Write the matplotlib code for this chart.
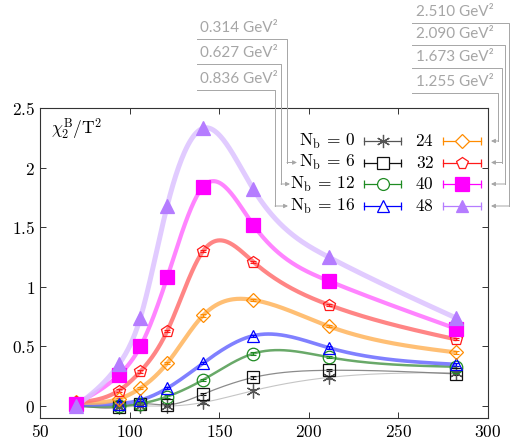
import numpy as np
import matplotlib
matplotlib.use("Agg")
import matplotlib.pyplot as plt
from matplotlib.ticker import FuncFormatter

plt.rcParams['mathtext.fontset'] = 'cm'
plt.rcParams['font.family'] = ['DejaVu Sans']

# temperatures (MeV) and chi_2^B/T^2 for each magnetic flux quantum N_b
T = [70, 94, 106, 121, 141, 169, 211, 282]
nb_values = [0, 6, 12, 16, 24, 32, 40, 48]
chi_0 = [0.00, -0.01, 0.00, 0.00, 0.03, 0.13, 0.24, 0.28]
chi_6 = [0.01, -0.01, 0.02, 0.01, 0.10, 0.24, 0.30, 0.27]
chi_12 = [0.00, 0.00, 0.02, 0.08, 0.22, 0.44, 0.41, 0.33]
chi_16 = [0.01, 0.02, 0.05, 0.15, 0.36, 0.59, 0.49, 0.35]
chi_24 = [0.03, 0.06, 0.15, 0.36, 0.76, 0.89, 0.67, 0.45]
chi_32 = [0.03, 0.13, 0.29, 0.63, 1.30, 1.21, 0.85, 0.56]
chi_40 = [0.02, 0.26, 0.50, 1.08, 1.84, 1.52, 1.05, 0.65]
chi_48 = [0.00, 0.35, 0.74, 1.68, 2.33, 1.82, 1.25, 0.74]
chi_err = 0.01

# eB labels: left ones point at N_b = 6, 12, 16; right ones at 48, 40, 32, 24
eb_left = ["0.314", "0.627", "0.836"]
eb_right = ["2.510", "2.090", "1.673", "1.255"]

series = [chi_0, chi_6, chi_12, chi_16, chi_24, chi_32, chi_40, chi_48]
colors = ['#555555', '#111111', '#1e8b22', '#0000ff', '#ff8c00', '#ff1a1a', '#ff00ff', '#b57cff']
curve_colors = ['#bbbbbb', '#777777', '#4f9a4f', '#6a6aff', '#ffb45c', '#ff7070', '#ff6fff', '#dcc2ff']
curve_widths = [0.8, 0.9, 1.8, 2.6, 3.0, 3.0, 3.0, 3.6]
markers = [(6, 2, 0), 's', 'o', '^', 'D', 'p', 's', '^']
msizes = [10, 9, 9, 9, 7.5, 9, 10, 9.5]
filled = [False, False, False, False, False, False, True, True]


def natural_spline(x, y, xs):
    x = np.asarray(x, float)
    y = np.asarray(y, float)
    n = len(x)
    h = np.diff(x)
    A = np.zeros((n, n))
    b = np.zeros(n)
    A[0, 0] = A[-1, -1] = 1
    for i in range(1, n - 1):
        A[i, i - 1] = h[i - 1]
        A[i, i] = 2 * (h[i - 1] + h[i])
        A[i, i + 1] = h[i]
        b[i] = 3 * ((y[i + 1] - y[i]) / h[i] - (y[i] - y[i - 1]) / h[i - 1])
    c = np.linalg.solve(A, b)
    idx = np.clip(np.searchsorted(x, xs) - 1, 0, n - 2)
    dx = xs - x[idx]
    bb = (y[idx + 1] - y[idx]) / h[idx] - h[idx] * (2 * c[idx] + c[idx + 1]) / 3
    d = (c[idx + 1] - c[idx]) / (3 * h[idx])
    return y[idx] + bb * dx + c[idx] * dx ** 2 + d * dx ** 3


W, H = 512, 443
fig = plt.figure(figsize=(W / 100, H / 100), dpi=100)
ax = fig.add_axes([40 / W, 1 - 418 / H, 448 / W, 310 / H])

xs = np.linspace(T[0], T[-1], 400)
for i, vals in enumerate(series):
    ax.plot(xs, natural_spline(T, vals, xs), color=curve_colors[i],
            lw=curve_widths[i], alpha=0.85, solid_capstyle='round', zorder=2 + i * 0.1)
for i, vals in enumerate(series):
    ax.errorbar(T, vals, yerr=chi_err, fmt='none', ecolor=colors[i], elinewidth=0.8,
                capsize=2, capthick=0.8, zorder=4)
    ax.plot(T, vals, ls='none', marker=markers[i], ms=msizes[i], mew=0.9,
            mec=colors[i], mfc=colors[i] if filled[i] else 'none', zorder=5)

ax.set_xlim(50, 300)
ax.set_ylim(-0.1, 2.5)
ax.set_xticks([50, 100, 150, 200, 250, 300])
ax.set_yticks([0, 0.5, 1, 1.5, 2, 2.5])
fmt = FuncFormatter(lambda v, p: "$%g$" % v)
ax.xaxis.set_major_formatter(fmt)
ax.yaxis.set_major_formatter(fmt)
ax.tick_params(direction='in', length=4, width=0.7, top=True, right=True,
               labelsize=12.5, colors='#333333', labelcolor='black')
for s in ax.spines.values():
    s.set_linewidth(0.8)
    s.set_color('#333333')
ax.text(0.025, 0.93, r"$\chi_2^{\mathrm{B}}/\mathrm{T}^2$", transform=ax.transAxes,
        fontsize=12.5, va='center', ha='left')

# overlay in pixel units for the legend and the eB labels
ov = fig.add_axes([0, 0, 1, 1])
ov.set_xlim(0, W)
ov.set_ylim(H, 0)
ov.axis('off')
ov.patch.set_alpha(0)

row_y = [141, 162.5, 184, 206]
cols = [(355, 364, 401), (434, 443, 481)]
for i, nb in enumerate(nb_values):
    col, row = divmod(i, 4)
    tx, k0, k1 = cols[col]
    y = row_y[row]
    label = r"$\mathrm{N_b}\,=\,%d$" % nb if col == 0 else r"$%d$" % nb
    ov.text(tx, y, label, fontsize=12.5, ha='right', va='center')
    ov.plot([k0, k1], [y, y], color=colors[i], lw=0.9)
    ov.plot([k0, k1], [y, y], ls='none', marker='|', ms=6, mew=0.9, color=colors[i])
    ov.plot([(k0 + k1) / 2], [y], ls='none', marker=markers[i], ms=msizes[i] * 0.95,
            mew=0.9, mec=colors[i], mfc=colors[i] if filled[i] else 'white')

gray = '#a6a6a6'
arrow = dict(arrowstyle='-|>', color=gray, lw=0.7, mutation_scale=6, shrinkA=0, shrinkB=0)

# left labels -> N_b = 6, 12, 16
left_text_y = [28, 53, 79]
left_vx = [287, 281, 275]
left_end = [297, 290, 288]
for j, lab in enumerate(eb_left):
    ty = left_text_y[j]
    uy = ty + 11
    ov.text(200, ty, lab + " GeV²", family='Lato', fontsize=11, color=gray, va='center')
    ov.plot([197, left_vx[j], left_vx[j]], [uy, uy, row_y[j + 1]], color=gray, lw=0.7)
    ov.annotate('', xy=(left_end[j], row_y[j + 1]), xytext=(left_vx[j], row_y[j + 1]),
                arrowprops=arrow)

# right labels -> 48, 40, 32, 24
right_text_y = [12, 34, 57, 82]
right_vx = [509, 505, 502, 498]
for j, lab in enumerate(eb_right):
    ty = right_text_y[j]
    uy = ty + 11
    ry = row_y[3 - j]
    ov.text(416, ty, lab + " GeV²", family='Lato', fontsize=11, color=gray, va='center')
    ov.plot([412, right_vx[j], right_vx[j]], [uy, uy, ry], color=gray, lw=0.7)
    ov.annotate('', xy=(491, ry), xytext=(right_vx[j], ry), arrowprops=arrow)

fig.savefig("out.png", dpi=100)
